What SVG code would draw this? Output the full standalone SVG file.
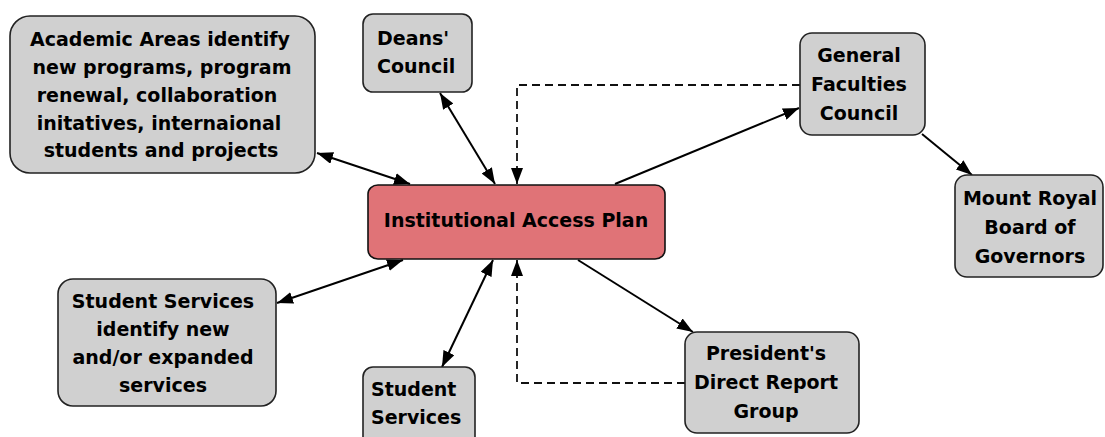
<svg xmlns="http://www.w3.org/2000/svg" width="1105" height="437" viewBox="0 0 1105 437">
  <style>
    .box { fill: #d0d0d0; stroke: #222; stroke-width: 1.6; }
    .plan { fill: #e07377; stroke: #111; stroke-width: 1.6; }
    .lbl { font-family: "DejaVu Sans", "Liberation Sans", sans-serif; font-weight: bold; font-size: 19px; fill: #000; }
    .mid { text-anchor: middle; }
    .edge { fill: none; stroke: #000; stroke-width: 2; }
    .dash { fill: none; stroke: #111; stroke-width: 1.8; stroke-dasharray: 8 5; }
  </style>
  <defs>
    <marker id="head" viewBox="0 0 16 12" refX="16" refY="6" markerUnits="userSpaceOnUse" markerWidth="16" markerHeight="12" orient="auto-start-reverse">
      <path d="M0,0 L16,6 L0,12 z" fill="#000"/>
    </marker>
  </defs>
  <rect width="1105" height="437" fill="#fff"/>

  <!-- connectors -->
  <g id="connectors">
    <line class="edge" x1="317" y1="153" x2="410" y2="184" marker-start="url(#head)" marker-end="url(#head)"/>
    <line class="edge" x1="440" y1="93" x2="495" y2="184" marker-start="url(#head)" marker-end="url(#head)"/>
    <line class="edge" x1="615" y1="184" x2="799" y2="108" marker-end="url(#head)"/>
    <line class="edge" x1="922" y1="134" x2="972" y2="175" marker-end="url(#head)"/>
    <line class="edge" x1="578" y1="260" x2="693" y2="332" marker-end="url(#head)"/>
    <line class="edge" x1="277" y1="303" x2="403" y2="260" marker-start="url(#head)" marker-end="url(#head)"/>
    <line class="edge" x1="442" y1="367" x2="493" y2="260" marker-start="url(#head)" marker-end="url(#head)"/>
    <polyline class="dash" points="800,85 517,85 517,184" marker-end="url(#head)"/>
    <polyline class="dash" points="685,383 517,383 517,260" marker-end="url(#head)"/>
  </g>

  <g id="academic-areas">
    <rect class="box" x="10" y="16" width="305" height="157" rx="20" ry="20"/>
    <text class="lbl mid" x="160" y="46">Academic Areas identify</text>
    <text class="lbl mid" x="162" y="74">new programs, program</text>
    <text class="lbl mid" x="157" y="102">renewal, collaboration</text>
    <text class="lbl mid" x="159" y="130">initatives, internaional</text>
    <text class="lbl mid" x="161" y="157">students and projects</text>
  </g>

  <g id="deans-council">
    <rect class="box" x="363" y="14" width="109" height="78" rx="10" ry="10"/>
    <text class="lbl" x="377" y="45">Deans'</text>
    <text class="lbl" x="377" y="73">Council</text>
  </g>

  <g id="access-plan">
    <rect class="plan" x="368" y="185" width="297" height="74" rx="10" ry="9"/>
    <text class="lbl mid" x="516" y="227">Institutional Access Plan</text>
  </g>

  <g id="general-faculties-council">
    <rect class="box" x="800" y="33" width="125" height="102" rx="12" ry="12"/>
    <text class="lbl mid" x="859" y="62">General</text>
    <text class="lbl mid" x="859" y="91">Faculties</text>
    <text class="lbl mid" x="859" y="120">Council</text>
  </g>

  <g id="board-of-governors">
    <rect class="box" x="955" y="175" width="148" height="102" rx="12" ry="12"/>
    <text class="lbl mid" x="1030" y="205">Mount Royal</text>
    <text class="lbl mid" x="1030" y="234">Board of</text>
    <text class="lbl mid" x="1030" y="263">Governors</text>
  </g>

  <g id="student-services-identify">
    <rect class="box" x="58" y="279" width="218" height="127" rx="15" ry="15"/>
    <text class="lbl mid" x="163" y="308">Student Services</text>
    <text class="lbl mid" x="163" y="336">identify new</text>
    <text class="lbl mid" x="163" y="364">and/or expanded</text>
    <text class="lbl mid" x="163" y="392">services</text>
  </g>

  <g id="student-services">
    <rect class="box" x="363" y="367" width="112" height="84" rx="10" ry="10"/>
    <text class="lbl" x="371" y="396">Student</text>
    <text class="lbl" x="371" y="424">Services</text>
  </g>

  <g id="presidents-group">
    <rect class="box" x="685" y="332" width="174" height="101" rx="12" ry="12"/>
    <text class="lbl mid" x="766" y="360">President's</text>
    <text class="lbl mid" x="766" y="389">Direct Report</text>
    <text class="lbl mid" x="766" y="418">Group</text>
  </g>
</svg>
